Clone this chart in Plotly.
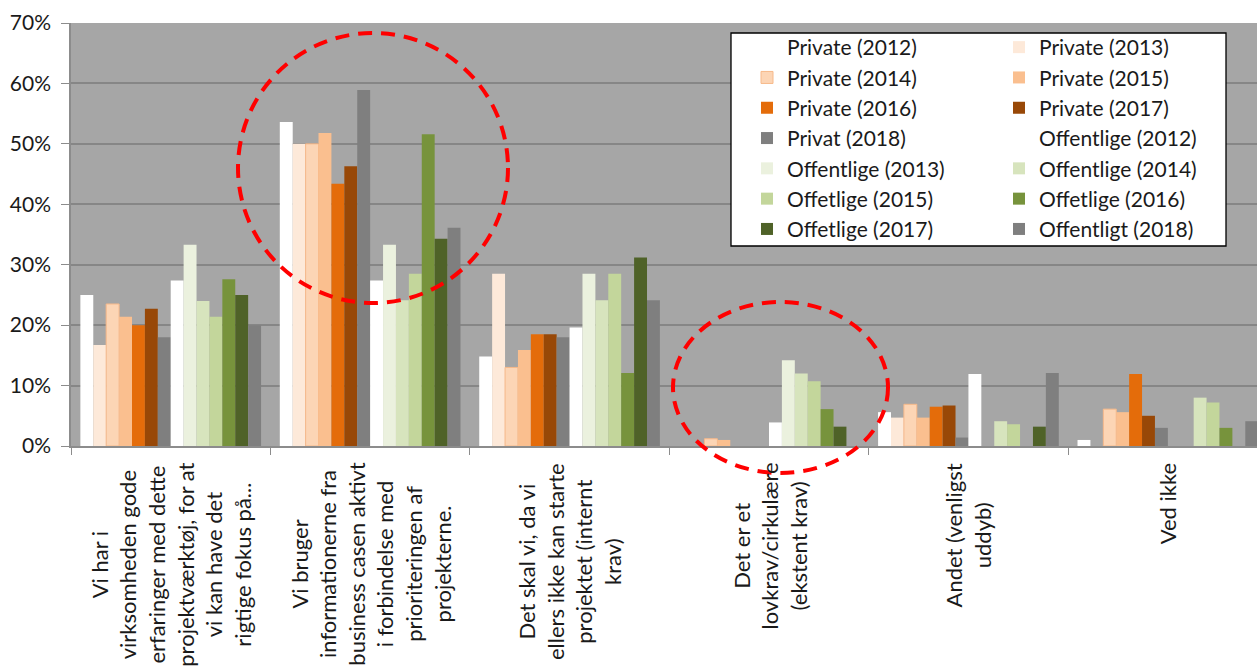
import plotly.graph_objects as go

# Answer categories (line breaks as wrapped on the axis)
categories = [
    "Vi har i\nvirksomheden gode\nerfaringer med dette\nprojektværktøj, for at\nvi kan have det\nrigtige fokus på...",
    "Vi bruger\ninformationerne fra\nbusiness casen aktivt\ni forbindelse med\nprioriteringen af\nprojekterne.",
    "Det skal vi, da vi\nellers ikke kan starte\nprojektet (internt\nkrav)",
    "Det er et\nlovkrav/cirkulære\n(ekstent krav)",
    "Andet (venligst\nuddyb)",
    "Ved ikke",
]

# Share of respondents (%) per series, one value per category
private_2012 = [25.0, 53.6, 14.8, 0.0, 5.6, 1.0]
private_2013 = [16.7, 50.0, 28.5, 0.0, 4.7, 0.0]
private_2014 = [23.5, 50.0, 13.0, 1.2, 6.9, 6.1]
private_2015 = [21.4, 51.8, 15.9, 1.0, 4.7, 5.6]
private_2016 = [20.0, 43.4, 18.5, 0.0, 6.5, 11.9]
private_2017 = [22.7, 46.3, 18.5, 0.0, 6.7, 5.0]
privat_2018 = [18.0, 58.9, 18.0, 0.0, 1.4, 3.0]
offentlige_2012 = [27.4, 27.4, 19.6, 3.9, 11.9, 0.0]
offentlige_2013 = [33.3, 33.3, 28.5, 14.2, 0.0, 0.0]
offentlige_2014 = [24.0, 24.1, 24.1, 12.0, 4.1, 8.0]
offetlige_2015 = [21.4, 28.5, 28.5, 10.7, 3.6, 7.2]
offetlige_2016 = [27.6, 51.6, 12.1, 6.1, 0.0, 3.0]
offetlige_2017 = [25.0, 34.3, 31.2, 3.2, 3.2, 0.0]
offentligt_2018 = [20.0, 36.1, 24.1, 0.0, 12.1, 4.1]

series = [
    ("Private (2012)", private_2012, "#FFFFFF", None),
    ("Private (2013)", private_2013, "#FDE9D9", None),
    ("Private (2014)", private_2014, "#FCD5B5", "#F7B98A"),
    ("Private (2015)", private_2015, "#FABF8F", None),
    ("Private (2016)", private_2016, "#E46C0A", None),
    ("Private (2017)", private_2017, "#984807", None),
    ("Privat (2018)", privat_2018, "#7F7F7F", None),
    ("Offentlige (2012)", offentlige_2012, "#FFFFFF", None),
    ("Offentlige (2013)", offentlige_2013, "#EBF1DE", None),
    ("Offentlige (2014)", offentlige_2014, "#D7E4BD", None),
    ("Offetlige (2015)", offetlige_2015, "#C3D69B", None),
    ("Offetlige (2016)", offetlige_2016, "#77933C", None),
    ("Offetlige (2017)", offetlige_2017, "#4F6228", None),
    ("Offentligt (2018)", offentligt_2018, "#7F7F7F", None),
]

FONT = "Lato, 'Open Sans', sans-serif"
TEXT = "#1a1a1a"
x_keys = [c.replace("\n", " ") for c in categories]

fig = go.Figure()
for i, (name, values, color, edge) in enumerate(series):
    fig.add_trace(go.Bar(
        name=name,
        x=x_keys,
        y=values,
        # entries alternate between the two legend columns (row by row)
        legend="legend" if i % 2 == 0 else "legend2",
        marker=dict(
            color=color,
            line=dict(color=edge or color, width=1 if edge else 0),
        ),
    ))

# Category labels: rotated, centred multi-line text under each group
annotations = []
for key, label in zip(x_keys, categories):
    annotations.append(dict(
        x=key, xref="x", y=0, yref="paper",
        yanchor="top", yshift=-15,
        text=label.replace("\n", "<br>"),
        textangle=-90, showarrow=False, align="center",
        font=dict(family=FONT, size=22, color=TEXT),
    ))

def px_x(p):
    return (p - 71) / 1186

def px_y(p):
    return (446 - p) / 423

shapes = [
    # legend frame
    dict(type="rect", xref="paper", yref="paper",
         x0=px_x(731), x1=px_x(1226), y0=px_y(246), y1=px_y(33),
         fillcolor="white", line=dict(color="#000000", width=1.3), layer="above"),
    # highlight rings
    dict(type="circle", xref="paper", yref="paper",
         x0=px_x(238), x1=px_x(508), y0=px_y(303), y1=px_y(33),
         line=dict(color="#FF0000", width=4, dash="14px,9px"), layer="above"),
    dict(type="circle", xref="paper", yref="paper",
         x0=px_x(673), x1=px_x(888), y0=px_y(473), y1=px_y(302),
         line=dict(color="#FF0000", width=4, dash="14px,9px"), layer="above"),
]

legend_style = dict(
    orientation="v",
    xanchor="left",
    y=px_y(27), yanchor="top",
    bgcolor="rgba(0,0,0,0)",
    borderwidth=0,
    tracegroupgap=0,
    font=dict(family=FONT, size=21, color=TEXT),
    traceorder="normal",
)

fig.update_layout(
    width=1257, height=666,
    margin=dict(l=71, r=0, t=23, b=220),
    paper_bgcolor="white",
    plot_bgcolor="#A6A6A6",
    barmode="group",
    bargap=0.094,
    bargroupgap=0,
    font=dict(family=FONT, color=TEXT),
    showlegend=True,
    legend=dict(x=px_x(747), **legend_style),
    legend2=dict(x=px_x(999), **legend_style),
    xaxis=dict(
        range=[-0.5, 5.447],
        showticklabels=False,
        ticks="outside", tickson="boundaries", ticklen=7,
        tickcolor="#8C8C8C", showline=True, linecolor="#8C8C8C", linewidth=1.5,
        showgrid=False, fixedrange=True,
    ),
    yaxis=dict(
        range=[0, 70], dtick=10, ticksuffix="%",
        ticks="outside", ticklen=8, tickcolor="#8C8C8C",
        showline=True, linecolor="#8C8C8C", linewidth=1.5,
        gridcolor="#868686", gridwidth=1.5, zeroline=False,
        tickfont=dict(family=FONT, size=21, color=TEXT),
        ticklabelstandoff=6,
    ),
    annotations=annotations,
    shapes=shapes,
)

fig.write_html("out.html")
